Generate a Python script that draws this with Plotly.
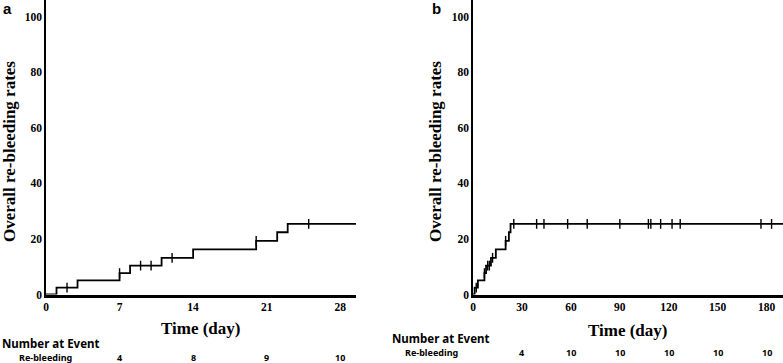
import plotly.graph_objects as go
import numpy as np

# ---- data ----
event_times = [0, 1, 3, 7, 8, 11, 14, 20, 22, 23]
cum_rates = [0, 2.5, 5.1, 7.7, 10.4, 13.2, 16.2, 19.3, 22.4, 25.4]
end_a = 29.5
end_b = 190
censor_a = [2, 7, 9, 10, 12, 20, 25]
censor_b = [2, 7, 9, 10, 12, 20, 25, 39, 43.5, 58, 70, 90, 107.5, 109, 115, 122, 127, 176.5, 183]
ticks_a = [0, 7, 14, 21, 28]
ticks_b = [0, 30, 60, 90, 120, 150, 180]
y_ticks = [0, 20, 40, 60, 80, 100]
risk_times_a = [7, 14, 21, 28]
risk_counts_a = ["4", "8", "9", "10"]
risk_times_b = [30, 60, 90, 120, 150, 180]
risk_counts_b = ["4", "10", "10", "10", "10", "10"]


def rate_at(t):
    idx = np.searchsorted(event_times, t, side="right") - 1
    return cum_rates[idx]


W, H = 783, 363
Y_BOTTOM_PX = 294.5
y_dom = [(H - Y_BOTTOM_PX) / H, 1.0]
dom_a = [46 / W, 356 / W]
dom_b = [473 / W, 1.0]

fig = go.Figure()

for (end, cens, xa, ya) in [(end_a, censor_a, "x", "y"), (end_b, censor_b, "x2", "y2")]:
    xs = list(event_times) + [end]
    ys = list(cum_rates) + [cum_rates[-1]]
    fig.add_trace(go.Scatter(x=xs, y=ys, mode="lines", line=dict(shape="hv", color="black", width=1.8),
                             xaxis=xa, yaxis=ya, showlegend=False, hoverinfo="skip"))
    fig.add_trace(go.Scatter(x=cens, y=[rate_at(t) for t in cens], mode="markers",
                             marker=dict(symbol="line-ns", size=7, line=dict(color="black", width=1.4)),
                             xaxis=xa, yaxis=ya, showlegend=False, hoverinfo="skip"))

tickfont = dict(family="Liberation Serif", size=11.5, color="black", weight="bold")
common_x = dict(showgrid=False, zeroline=False, showline=True, linecolor="black", linewidth=2.5,
                ticks="", tickfont=tickfont, automargin=False)
common_y = dict(showgrid=False, zeroline=False, showline=True, linecolor="black", linewidth=1.5,
                ticks="", tickfont=tickfont, automargin=False, range=[0, Y_BOTTOM_PX / 2.78],
                tickvals=y_ticks, domain=y_dom)

fig.update_layout(
    width=W, height=H, margin=dict(l=0, r=0, t=0, b=0),
    paper_bgcolor="white", plot_bgcolor="white",
    xaxis=dict(common_x, domain=dom_a, range=[0, end_a], tickvals=ticks_a, anchor="y"),
    yaxis=dict(common_y, anchor="x"),
    xaxis2=dict(common_x, domain=dom_b, range=[0, end_b], tickvals=ticks_b, anchor="y2"),
    yaxis2=dict(common_y, anchor="x2"),
)

serif_title = dict(family="Liberation Serif", size=17, color="black", weight="bold")
sans = "Noto Sans"
ann = []
# panel letters
ann.append(dict(text="a", x=1 / W, y=1 - 8 / H, xref="paper", yref="paper", xanchor="left", yanchor="middle",
                showarrow=False, font=dict(family="Liberation Sans", size=15, color="black", weight="bold")))
ann.append(dict(text="b", x=430 / W, y=1 - 8 / H, xref="paper", yref="paper", xanchor="left", yanchor="middle",
                showarrow=False, font=dict(family="Liberation Sans", size=15, color="black", weight="bold")))
# y titles
for xc in [9, 435]:
    ann.append(dict(text="Overall re-bleeding rates", x=xc / W, y=1 - 152 / H, xref="paper", yref="paper",
                    textangle=-90, showarrow=False, font=serif_title, xanchor="center", yanchor="middle"))
# x titles
ann.append(dict(text="Time (day)", x=201 / W, y=1 - 328 / H, xref="paper", yref="paper", showarrow=False,
                font=serif_title, xanchor="center", yanchor="middle"))
ann.append(dict(text="Time (day)", x=628 / W, y=1 - 330 / H, xref="paper", yref="paper", showarrow=False,
                font=serif_title, xanchor="center", yanchor="middle"))
# number at event blocks
for (x0, yN, yR, xR) in [(0, 343.5, 357, 46), (390, 338, 352, 432)]:
    ann.append(dict(text="Number at Event", x=x0 / W, y=1 - yN / H, xref="paper", yref="paper", showarrow=False,
                    xanchor="left", yanchor="middle",
                    font=dict(family=sans, size=11.5, color="black", weight="bold")))
    ann.append(dict(text="Re-bleeding", x=xR / W, y=1 - yR / H, xref="paper", yref="paper", showarrow=False,
                    xanchor="center", yanchor="middle",
                    font=dict(family=sans, size=9, color="black", weight="bold")))
for t, c in zip(risk_times_a, risk_counts_a):
    ann.append(dict(text=c, x=t, xref="x", y=1 - 357 / H, yref="paper", showarrow=False,
                    xanchor="center", yanchor="middle", font=dict(family=sans, size=9, color="black", weight="bold")))
for t, c in zip(risk_times_b, risk_counts_b):
    ann.append(dict(text=c, x=t, xref="x2", y=1 - 352.5 / H, yref="paper", showarrow=False,
                    xanchor="center", yanchor="middle", font=dict(family=sans, size=9, color="black", weight="bold")))

fig.update_layout(annotations=ann)
fig.write_html("out.html", config={"displayModeBar": False},
               post_script="document.body.style.margin='0';document.body.style.overflow='hidden';")
